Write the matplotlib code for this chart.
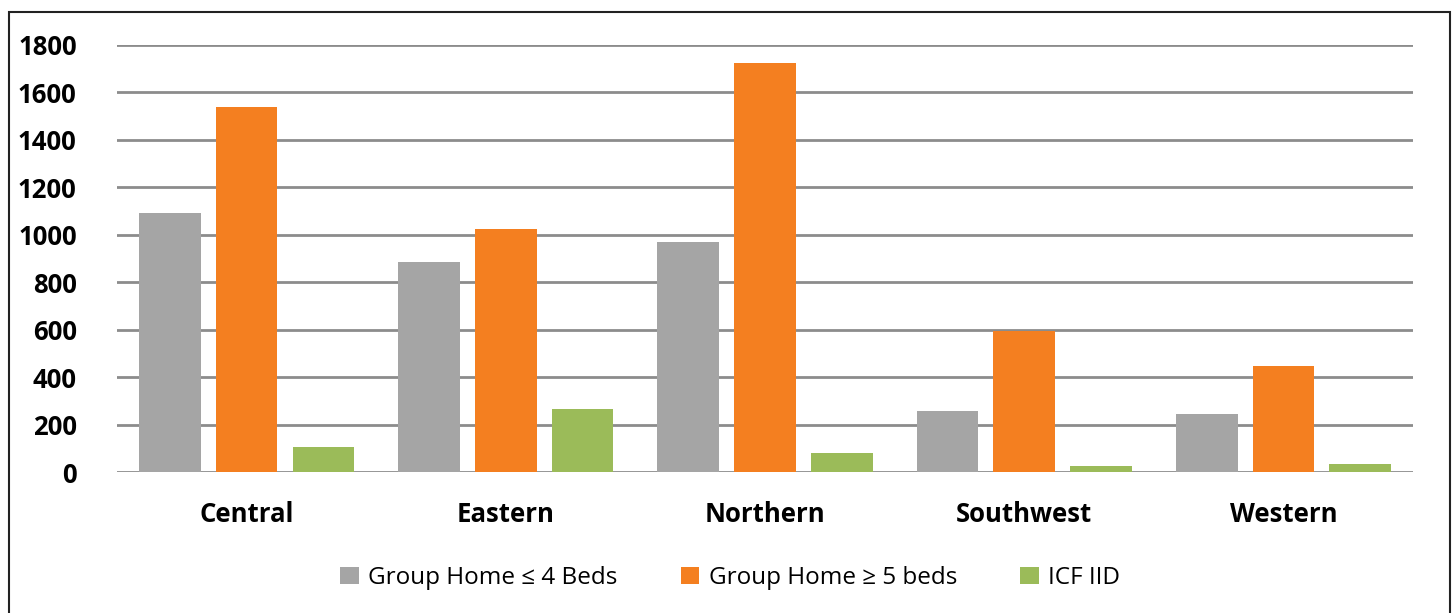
import matplotlib.pyplot as plt
import numpy as np
from matplotlib.patches import Rectangle

regions = ["Central", "Eastern", "Northern", "Southwest", "Western"]
series_names = ["Group Home \u2264 4 Beds", "Group Home \u2265 5 beds", "ICF IID"]
small_homes = [1092, 885, 970, 257, 245]
large_homes = [1539, 1024, 1724, 594, 447]
icf_iid = [105, 266, 80, 25, 34]
colors = ["#A5A5A5", "#F47F20", "#9BBB59"]

plt.rcParams["font.family"] = ["Open Sans", "DejaVu Sans"]

fig = plt.figure(figsize=(14.52, 6.13), dpi=100)
ax = fig.add_axes([0.0806, 0.23, 0.8926, 0.6966])

x = np.arange(len(regions))
step = 0.296
width = 0.238
for i, (vals, name, col) in enumerate(zip([small_homes, large_homes, icf_iid], series_names, colors)):
    ax.bar(x + (i - 1) * step, vals, width, color=col, label=name, zorder=3)

ax.set_xlim(-0.5, len(regions) - 0.5)
ax.set_ylim(0, 1800)
ax.set_yticks(range(0, 1801, 200))
ax.yaxis.grid(True, color="#8C8C8C", linewidth=2, zorder=0)
ax.set_axisbelow(True)
for s in ax.spines.values():
    s.set_visible(False)
ax.tick_params(axis="both", length=0)
ax.tick_params(axis="y", pad=29)
ax.tick_params(axis="x", pad=21)
ax.set_xticks(x)
ax.set_xticklabels(regions, fontsize=18.5, fontweight="bold")
for lbl in ax.get_yticklabels():
    lbl.set_fontsize(18.5)
    lbl.set_fontweight("bold")

fig.legend(loc="center", bbox_to_anchor=(0.503, 0.057), ncol=3, frameon=False,
           fontsize=17.5, handlelength=0.75, handleheight=0.75, handletextpad=0.4,
           columnspacing=2.6)

# outer frame around the chart
fig.patches.append(Rectangle((9 / 1452, -0.05), 1441 / 1452, 1.05 - 12 / 613,
                             transform=fig.transFigure, fill=False,
                             edgecolor="#222222", linewidth=1.5))

fig.savefig("out.png", dpi=100)
